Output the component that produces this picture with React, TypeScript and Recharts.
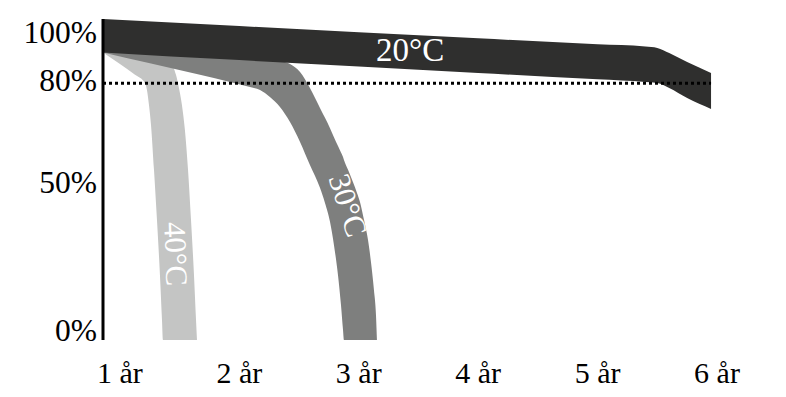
import React from 'react';
import {
  ComposedChart,
  Area,
  XAxis,
  YAxis,
  ReferenceLine,
  ReferenceDot,
} from 'recharts';

// x = years, values = remaining capacity in %
const yearTicks = [1, 2, 3, 4, 5, 6];
const percentTicks = [0, 50, 80, 100];

const years20 = [0.858, 2, 3, 4, 5, 5.4, 5.5, 5.6, 5.75, 5.95];
const low20 = [89.6, 87.2, 85.2, 83.2, 81.2, 80.4, 80.1, 78.5, 75.4, 72.0];
const high20 = [100, 97.8, 95.9, 94.0, 92.1, 91.4, 91.0, 89.4, 86.6, 83.2];

const years30 = [
  0.858, 1.251, 1.67, 1.921, 2.089, 2.173, 2.256, 2.34, 2.424, 2.508, 2.591,
  2.675, 2.717, 2.759, 2.792, 2.826, 2.851, 2.868, 2.876, 2.91, 2.951, 2.985,
  3.01, 3.044, 3.077, 3.102, 3.127, 3.144, 3.152,
];
const low30 = [
  89.6, 86.2, 82.6, 80.4, 78.8, 77.9, 75.7, 72.6, 67.9, 61.7, 54.5, 47.4, 42.7,
  36.8, 29.6, 20.2, 10.9, 3.1, 0, 0, 0, 0, 0, 0, 0, 0, 0, 0, 0,
];
const high30 = [
  89.9, 89.1, 88.3, 87.8, 87.4, 87.3, 87.1, 86.8, 86.0, 83.5, 78.5, 72.3, 69.2,
  66.0, 63.2, 60.4, 58.4, 57.0, 56.1, 53.0, 49.2, 45.8, 43.0, 37.4, 31.2, 24.3,
  15.6, 7.8, 0,
];

const years40 = [
  0.858, 1.0, 1.126, 1.209, 1.226, 1.243, 1.26, 1.285, 1.31, 1.335, 1.352, 1.36,
  1.385, 1.419, 1.444, 1.469, 1.494, 1.519, 1.544, 1.57, 1.595, 1.62, 1.637,
  1.645,
];
const low40 = [
  89.6, 86.0, 82.6, 80.1, 77.9, 73.2, 67.0, 53.0, 37.4, 20.2, 6.2, 0, 0, 0, 0,
  0, 0, 0, 0, 0, 0, 0, 0, 0,
];
const high40 = [
  90.0, 88.8, 87.7, 86.9, 86.8, 86.6, 86.4, 86.3, 86.0, 85.8, 85.7, 85.7, 85.5,
  85.4, 85.0, 82.6, 78.5, 73.2, 65.4, 53.0, 37.4, 20.2, 6.2, 0,
];

const toRows = (xs: number[], lows: number[], highs: number[]) =>
  xs.map((x, i) => ({ x, range: [lows[i], highs[i]] }));

const FONT = '"Liberation Serif", "DejaVu Serif", serif';

// small vertical nudges for the y labels (the original artwork is schematic)
const yNudge: Record<number, number> = { 100: 13, 80: -3, 50: 2, 0: -10 };

function YTick({ x, y, payload }: any) {
  return (
    <text
      x={x + 2}
      y={y + (yNudge[payload.value] ?? 0) + 11}
      textAnchor="end"
      fontFamily={FONT}
      fontSize={31.5}
      fill="#000"
    >
      {payload.value}%
    </text>
  );
}

function XTick({ x, y, payload }: any) {
  return (
    <text
      x={x}
      y={y + 35}
      textAnchor="middle"
      fontFamily={FONT}
      fontSize={30}
      fill="#000"
    >
      {payload.value} år
    </text>
  );
}

const bandLabels = [
  { text: '20°C', x: 3.43, y: 90.4, angle: 0 },
  { text: '30°C', x: 2.91, y: 42, angle: 72 },
  { text: '40°C', x: 1.469, y: 26.8, angle: 88 },
];

export default function App() {
  return (
    <div style={{ position: 'absolute', left: 0, top: 0 }}>
      <ComposedChart
        width={786}
        height={397}
        margin={{ top: 19, right: 66, bottom: 0, left: 0 }}
      >
        <XAxis
          type="number"
          dataKey="x"
          domain={[0.858, 6.025]}
          allowDataOverflow
          ticks={yearTicks}
          interval={0}
          axisLine={false}
          tickLine={false}
          height={57}
          tick={<XTick />}
        />
        <YAxis
          type="number"
          domain={[0, 100]}
          allowDataOverflow
          ticks={percentTicks}
          interval={0}
          width={103}
          axisLine={{ stroke: '#000', strokeWidth: 3 }}
          tickLine={false}
          tick={<YTick />}
        />
        <Area
          data={toRows(years40, low40, high40)}
          dataKey="range"
          type="monotone"
          stroke="none"
          fill="#c4c5c4"
          fillOpacity={1}
          isAnimationActive={false}
        />
        <Area
          data={toRows(years30, low30, high30)}
          dataKey="range"
          type="monotone"
          stroke="none"
          fill="#7e7f7e"
          fillOpacity={1}
          isAnimationActive={false}
        />
        <Area
          data={toRows(years20, low20, high20)}
          dataKey="range"
          type="monotone"
          stroke="none"
          fill="#2f2f2e"
          fillOpacity={1}
          isAnimationActive={false}
        />
        <ReferenceLine
          segment={[
            { x: 0.858, y: 80 },
            { x: 5.95, y: 80 },
          ]}
          stroke="#000"
          strokeWidth={3}
          strokeDasharray="3 3"
        />
        <ReferenceLine
          segment={[
            { x: 0.845, y: 0 },
            { x: 5.95, y: 0 },
          ]}
          stroke="#000"
          strokeWidth={3}
        />
        {bandLabels.map((l) => (
          <ReferenceDot
            key={l.text}
            x={l.x}
            y={l.y}
            r={0}
            shape={(p: any) => (
              <text
                x={p.cx}
                y={p.cy}
                textAnchor="middle"
                dominantBaseline="central"
                fontFamily={FONT}
                fontSize={l.angle === 0 ? 33 : 31}
                fill="#fff"
                transform={`rotate(${l.angle} ${p.cx} ${p.cy})`}
              >
                {l.text}
              </text>
            )}
          />
        ))}
      </ComposedChart>
    </div>
  );
}
